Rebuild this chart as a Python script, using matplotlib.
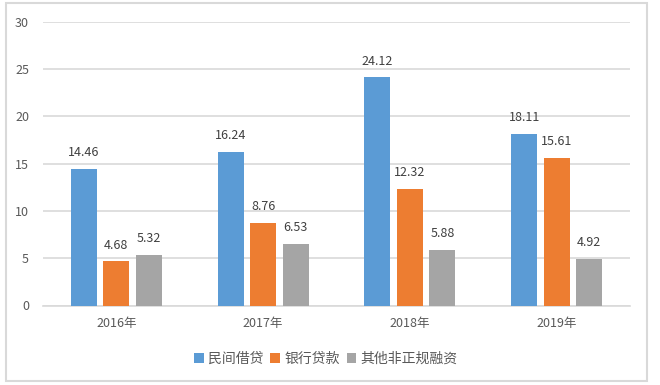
import matplotlib
matplotlib.use("Agg")
import matplotlib.pyplot as plt
from matplotlib.patches import Rectangle
import numpy as np

plt.rcParams['font.family'] = ['Noto Sans CJK SC', 'DejaVu Sans']

categories = ['2016年', '2017年', '2018年', '2019年']
series_names = ['民间借贷', '银行贷款', '其他非正规融资']
private_lending = [14.46, 16.24, 24.12, 18.11]
bank_loans = [4.68, 8.76, 12.32, 15.61]
other_informal = [5.32, 6.53, 5.88, 4.92]
colors = ['#5B9BD5', '#ED7D31', '#A5A5A5']
yticks = [0, 5, 10, 15, 20, 25, 30]

series = [private_lending, bank_loans, other_informal]
text_color = '#595959'

fig = plt.figure(figsize=(6.6, 3.85), dpi=100)
fig.patches.append(Rectangle((6/660, 1 - 381/385), 641/660, 378/385,
                             transform=fig.transFigure, fill=False,
                             edgecolor='#D9D9D9', linewidth=1.5))
ax = fig.add_axes([43/660, 1 - 305.5/385, 587/660, (305.5 - 21.7)/385])

x = np.arange(len(categories))
width = 0.177
step = 0.2215
for i, (vals, name, c) in enumerate(zip(series, series_names, colors)):
    pos = x + (i - 1) * step
    bars = ax.bar(pos, vals, width=width, color=c, label=name, zorder=3)
    for b, v in zip(bars, vals):
        ax.annotate(f'{v:.2f}', (b.get_x() + b.get_width() / 2, v),
                    xytext=(0, 7), textcoords='offset points',
                    ha='center', va='bottom', fontsize=9, color='#404040')

ax.set_xlim(-0.5, len(categories) - 0.5)
ax.set_ylim(0, 30)
ax.set_yticks(yticks)
ax.set_xticks(x)
ax.set_xticklabels(categories)
ax.yaxis.grid(True, color='#D9D9D9', linewidth=1.2, zorder=0)
for s in ['top', 'right', 'left']:
    ax.spines[s].set_visible(False)
ax.spines['bottom'].set_color('#D9D9D9')
ax.spines['bottom'].set_linewidth(1.2)
ax.tick_params(axis='both', length=0, labelsize=9, colors=text_color)
ax.tick_params(axis='y', pad=10)
ax.tick_params(axis='x', pad=8)

leg = ax.legend(loc='upper center', bbox_to_anchor=(0.482, -0.12), ncol=3,
                frameon=False, fontsize=10, handlelength=0.7, handleheight=0.7,
                handletextpad=0.3, columnspacing=0.5)
for t in leg.get_texts():
    t.set_color(text_color)

fig.savefig('out.png', dpi=100)
